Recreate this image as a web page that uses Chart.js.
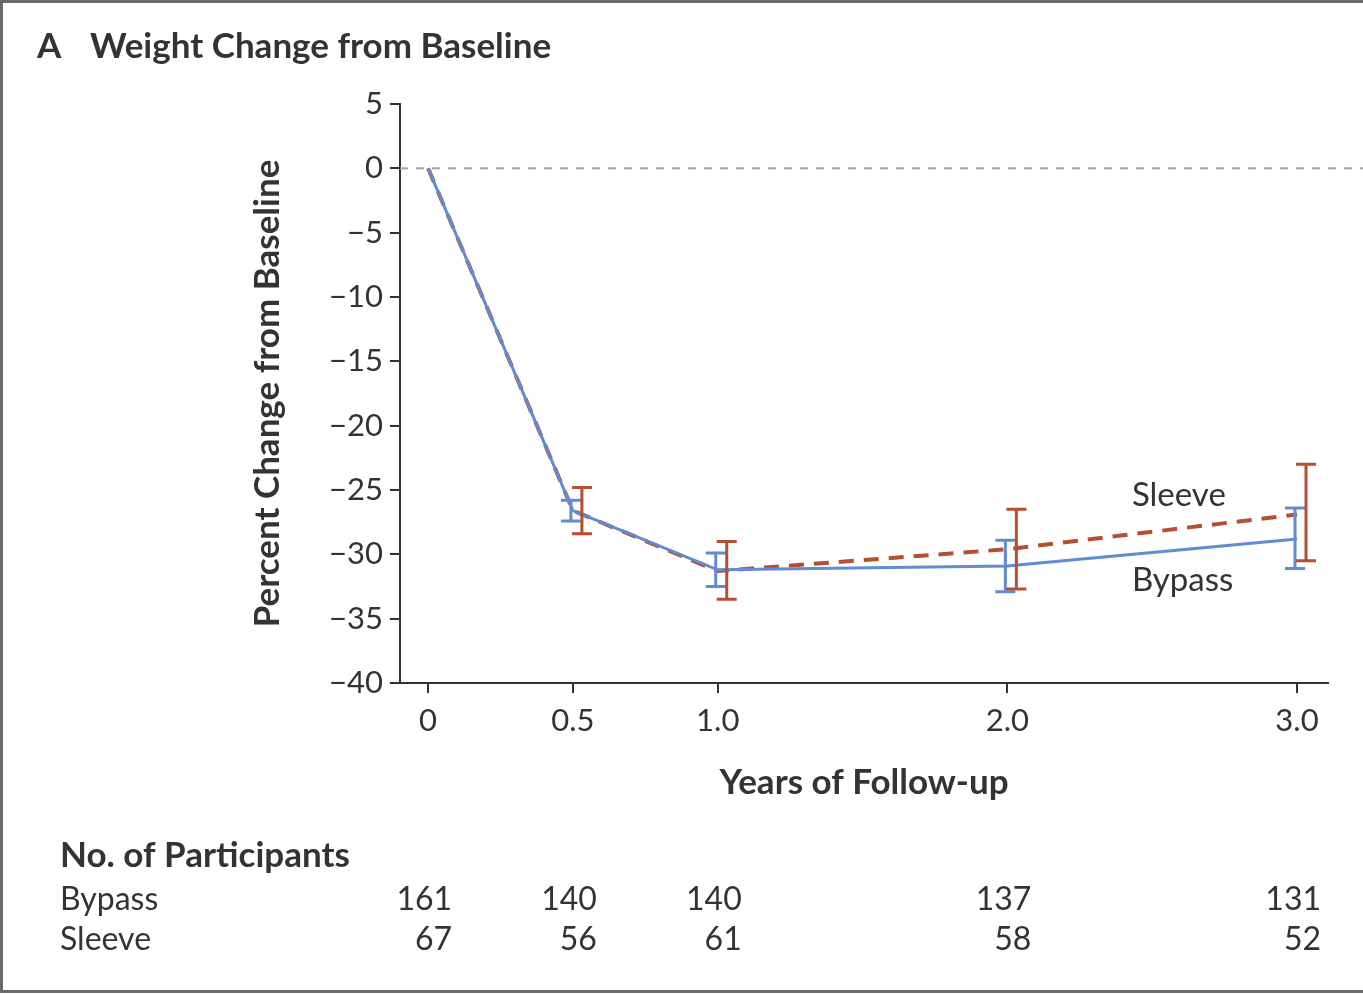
<!DOCTYPE html>
<html>
<head>
<meta charset="utf-8">
<script src="https://cdn.jsdelivr.net/npm/chart.js@4.4.1/dist/chart.umd.min.js"></script>
<style>
  html, body { margin: 0; padding: 0; background: #fff; }
  #wrap { width: 1363px; height: 994px; }
</style>
</head>
<body>
<div id="wrap"><canvas id="c" width="1363" height="994"></canvas></div>
<script>
// data
const years = [0, 0.5, 1.0, 2.0, 3.0];
const yTicks = [5, 0, -5, -10, -15, -20, -25, -30, -35, -40];

const bypassMean = [0, -26.6, -31.2, -30.9, -28.8];
const bypassLow  = [null, -27.4, -32.5, -32.9, -31.1];
const bypassHigh = [null, -25.8, -29.9, -28.9, -26.4];

const sleeveMean = [0, -26.6, -31.3, -29.6, -26.9];
const sleeveLow  = [null, -28.4, -33.5, -32.7, -30.5];
const sleeveHigh = [null, -24.8, -29.0, -26.5, -23.0];

const bypassN = [161, 140, 140, 137, 131];
const sleeveN = [67, 56, 61, 58, 52];

// where the series names sit (data coords)
const sleeveLabelAt = [2.43, -25.4];
const bypassLabelAt = [2.43, -32.0];

const BLUE = '#5f8cd2';
const RED = '#b54f2f';
const INK = '#333333';
const FONT = 'Lato';

const pts = (ys) => years.map((x, i) => ({ x: x, y: ys[i] }));

const decor = {
  id: 'decor',
  beforeDatasetsDraw(chart) {
    const ctx = chart.ctx;
    const y0 = chart.scales.y.getPixelForValue(0);
    ctx.save();
    ctx.strokeStyle = '#a3a3a3';
    ctx.lineWidth = 2;
    ctx.setLineDash([8, 8]);
    ctx.beginPath();
    ctx.moveTo(chart.chartArea.left, y0);
    ctx.lineTo(chart.width, y0);
    ctx.stroke();
    ctx.restore();
  },
  afterDatasetsDraw(chart) {
    const ctx = chart.ctx;
    const xs = chart.scales.x, ys = chart.scales.y;

    // error bars
    const bars = (lo, hi, color, dx) => {
      ctx.save();
      ctx.strokeStyle = color;
      ctx.lineWidth = 3;
      years.forEach((yr, i) => {
        if (lo[i] == null) return;
        const x = xs.getPixelForValue(yr) + dx;
        const a = ys.getPixelForValue(lo[i]);
        const b = ys.getPixelForValue(hi[i]);
        ctx.beginPath();
        ctx.moveTo(x, a); ctx.lineTo(x, b);
        ctx.moveTo(x - 10, a); ctx.lineTo(x + 10, a);
        ctx.moveTo(x - 10, b); ctx.lineTo(x + 10, b);
        ctx.stroke();
      });
      ctx.restore();
    };
    bars(bypassLow, bypassHigh, BLUE, -2);
    bars(sleeveLow, sleeveHigh, RED, 9);

    ctx.save();
    ctx.fillStyle = INK;
    ctx.textBaseline = 'middle';

    // series names
    ctx.font = '33px ' + FONT;
    ctx.textAlign = 'left';
    ctx.fillText('Sleeve', xs.getPixelForValue(sleeveLabelAt[0]), ys.getPixelForValue(sleeveLabelAt[1]));
    ctx.fillText('Bypass', xs.getPixelForValue(bypassLabelAt[0]), ys.getPixelForValue(bypassLabelAt[1]));

    // panel title
    ctx.font = 'bold 35px ' + FONT;
    ctx.fillText('A', 37, 47);
    ctx.fillText('Weight Change from Baseline', 90, 47);

    // participants table
    ctx.font = 'bold 35px ' + FONT;
    ctx.fillText('No. of Participants', 60, 856);
    ctx.font = '32px ' + FONT;
    ctx.fillText('Bypass', 60, 900);
    ctx.fillText('Sleeve', 60, 940);
    ctx.textAlign = 'right';
    years.forEach((yr, i) => {
      const x = xs.getPixelForValue(yr) + 24;
      ctx.fillText(String(bypassN[i]), x, 900);
      ctx.fillText(String(sleeveN[i]), x, 940);
    });

    // frame
    ctx.strokeStyle = '#6a6a6a';
    ctx.lineWidth = 3;
    ctx.strokeRect(1.5, 1.5, chart.width + 4, chart.height - 4);
    ctx.restore();
  }
};

new Chart(document.getElementById('c'), {
  type: 'line',
  data: {
    datasets: [
      {
        label: 'Bypass',
        data: pts(bypassMean),
        borderColor: BLUE,
        borderWidth: 3,
        pointRadius: 0,
        tension: 0,
        fill: false
      },
      {
        label: 'Sleeve',
        data: pts(sleeveMean),
        borderColor: RED,
        borderWidth: 4,
        borderDash: [15, 10],
        pointRadius: 0,
        tension: 0,
        fill: false
      }
    ]
  },
  options: {
    responsive: false,
    animation: false,
    devicePixelRatio: 1,
    layout: { padding: { left: 245, top: 104, right: 35, bottom: 188 } },
    plugins: {
      legend: { display: false },
      tooltip: { enabled: false }
    },
    scales: {
      x: {
        type: 'linear',
        min: -0.097,
        max: 3.107,
        afterBuildTicks: (s) => { s.ticks = years.map(v => ({ value: v })); },
        afterFit: (s) => { s.height = 123; },
        ticks: {
          color: INK,
          font: { family: FONT, size: 31 },
          padding: 9,
          maxRotation: 0,
          autoSkip: false,
          callback: (v) => (v === 0 ? '0' : v.toFixed(1))
        },
        grid: { drawOnChartArea: false, tickLength: 10, color: INK, lineWidth: 2 },
        border: { color: INK, width: 2 },
        title: {
          display: true,
          text: 'Years of Follow-up',
          color: INK,
          font: { family: FONT, size: 35, weight: 'bold' },
          padding: { top: 0, bottom: 2 }
        }
      },
      y: {
        min: -40,
        max: 5,
        afterBuildTicks: (s) => { s.ticks = yTicks.map(v => ({ value: v })); },
        afterFit: (s) => { s.width = 155; },
        ticks: {
          color: INK,
          font: { family: FONT, size: 31 },
          padding: 7,
          callback: (v) => (v < 0 ? '\u2212' + Math.abs(v) : String(v))
        },
        grid: { drawOnChartArea: false, tickLength: 10, color: INK, lineWidth: 2 },
        border: { color: INK, width: 2 },
        title: {
          display: true,
          text: 'Percent Change from Baseline',
          color: INK,
          font: { family: FONT, size: 35, weight: 'bold' },
          padding: { top: 2, bottom: 0 }
        }
      }
    }
  },
  plugins: [decor]
});
</script>
</body>
</html>
